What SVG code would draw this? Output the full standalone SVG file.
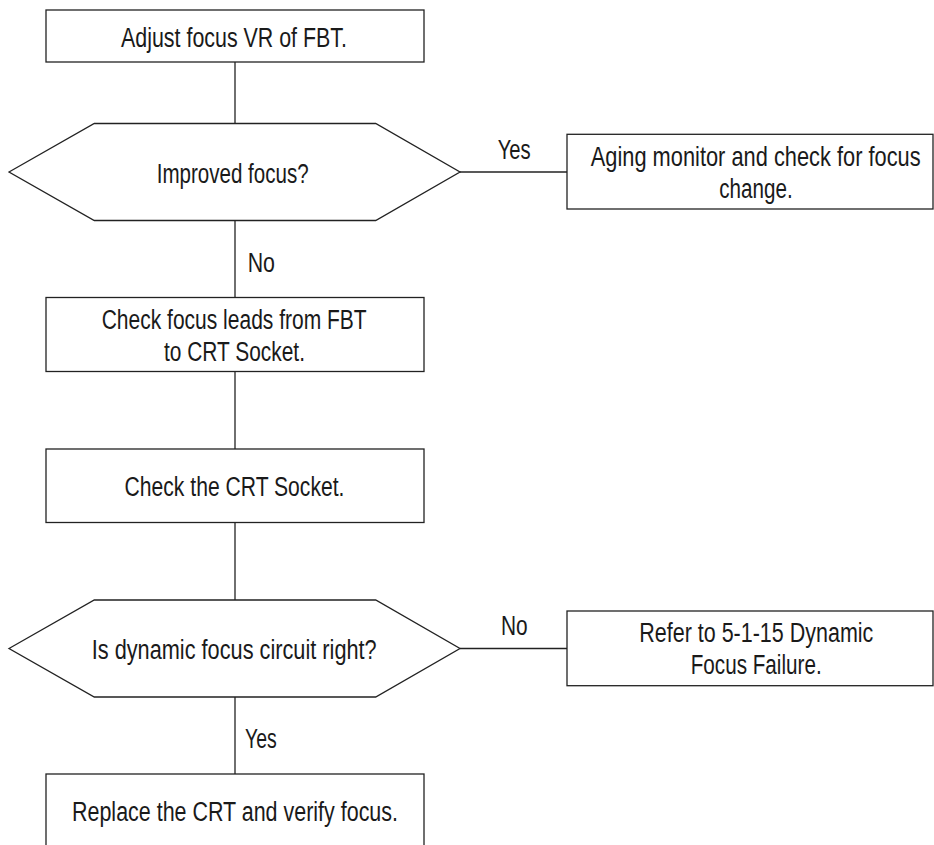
<svg xmlns="http://www.w3.org/2000/svg" width="934" height="845" viewBox="0 0 934 845">
<style>
.box{fill:#fff;stroke:#222;stroke-width:1.3}
.ln{fill:none;stroke:#222;stroke-width:1.3}
text{font-family:"Liberation Sans",Arial,sans-serif;font-size:27px;fill:#1a1a1a}
</style>
<rect x="0" y="0" width="934" height="845" fill="#fff"/>
<g id="connectors">
<line class="ln" x1="235" y1="62" x2="235" y2="123.5"/>
<line class="ln" x1="235" y1="220.5" x2="235" y2="297.5"/>
<line class="ln" x1="235" y1="371.5" x2="235" y2="449"/>
<line class="ln" x1="235" y1="522.5" x2="235" y2="600"/>
<line class="ln" x1="235" y1="697" x2="235" y2="774"/>
<line class="ln" x1="460" y1="172" x2="567" y2="172"/>
<line class="ln" x1="460" y1="648.5" x2="567" y2="648.5"/>
<text x="497.7" y="159.3" textLength="33" lengthAdjust="spacingAndGlyphs">Yes</text>
<text x="247.7" y="271.7" textLength="27.3" lengthAdjust="spacingAndGlyphs">No</text>
<text x="501" y="635" textLength="26.7" lengthAdjust="spacingAndGlyphs">No</text>
<text x="245" y="748.3" textLength="31.7" lengthAdjust="spacingAndGlyphs">Yes</text>
</g>
<g id="n1">
<rect class="box" x="46" y="10" width="378" height="52"/>
<text x="121" y="46.5" textLength="226" lengthAdjust="spacingAndGlyphs">Adjust focus VR of FBT.</text>
</g>
<g id="d1">
<polygon class="box" points="9,172 94.3,123.5 375.7,123.5 460,172 375.7,220.5 94.3,220.5"/>
<text x="156.7" y="182.5" textLength="152" lengthAdjust="spacingAndGlyphs">Improved focus?</text>
</g>
<g id="n2">
<rect class="box" x="567" y="134.3" width="366" height="74.7"/>
<text transform="translate(590.7,166) scale(0.8084,1)" x="0" y="0">Aging monitor and check for focus</text>
<text x="719.3" y="198" textLength="73.4" lengthAdjust="spacingAndGlyphs">change.</text>
</g>
<g id="n3">
<rect class="box" x="46" y="297.5" width="378" height="74"/>
<text x="101.7" y="328.5" textLength="265" lengthAdjust="spacingAndGlyphs">Check focus leads from FBT</text>
<text x="164" y="360.5" textLength="141" lengthAdjust="spacingAndGlyphs">to CRT Socket.</text>
</g>
<g id="n4">
<rect class="box" x="46" y="449" width="378" height="73.5"/>
<text x="124.5" y="495.5" textLength="220" lengthAdjust="spacingAndGlyphs">Check the CRT Socket.</text>
</g>
<g id="d2">
<polygon class="box" points="9,648.5 94.3,600 375.7,600 460,648.5 375.7,697 94.3,697"/>
<text x="91.7" y="658.5" textLength="285" lengthAdjust="spacingAndGlyphs">Is dynamic focus circuit right?</text>
</g>
<g id="n5">
<rect class="box" x="567" y="611" width="366" height="74.7"/>
<text x="639.3" y="642.3" textLength="234" lengthAdjust="spacingAndGlyphs">Refer to 5-1-15 Dynamic</text>
<text x="690.7" y="674.3" textLength="131" lengthAdjust="spacingAndGlyphs">Focus Failure.</text>
</g>
<g id="n6">
<rect class="box" x="46" y="774" width="378" height="80"/>
<text x="72" y="821" textLength="326" lengthAdjust="spacingAndGlyphs">Replace the CRT and verify focus.</text>
</g>
</svg>
